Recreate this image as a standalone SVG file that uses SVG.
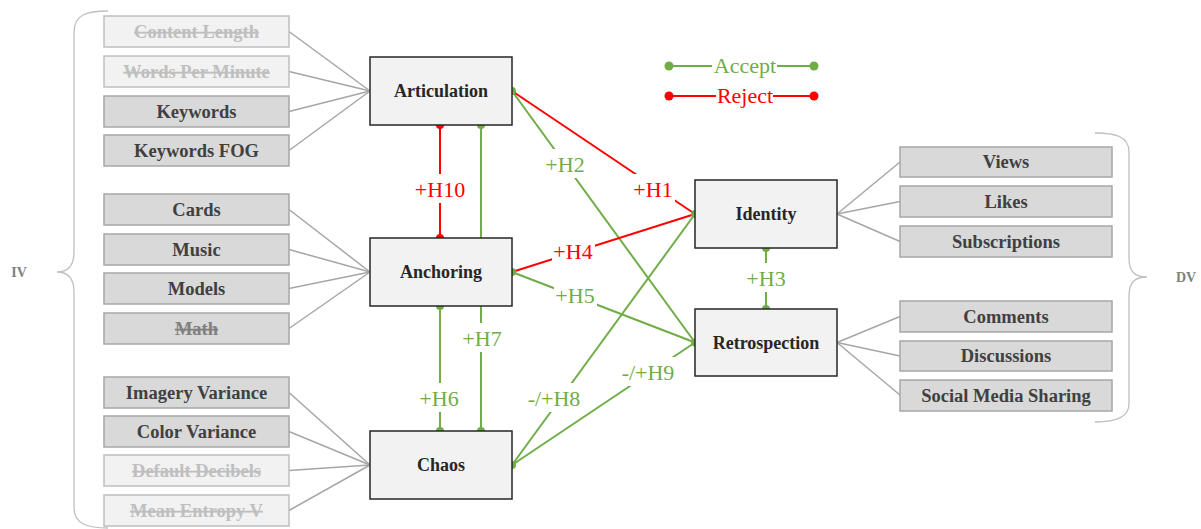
<svg xmlns="http://www.w3.org/2000/svg" width="1201" height="529" viewBox="0 0 1201 529">
  <style>
    .ind rect { fill: #D9D9D9; stroke: #A6A6A6; stroke-width: 1.5; }
    .ind text { font-family: "Liberation Serif", serif; font-weight: bold; font-size: 18.5px; fill: #404040; text-anchor: middle; }
    .off rect { fill: #F2F2F2; stroke: #BFBFBF; stroke-width: 1.5; }
    .off text { font-family: "Liberation Serif", serif; font-weight: bold; font-size: 18.5px; fill: #BFBFBF; text-anchor: middle; text-decoration: line-through; }
    .weak text { fill: #808080; text-decoration: line-through; }
    .node rect { fill: #F2F2F2; stroke: #262626; stroke-width: 1.5; }
    .node text { font-family: "Liberation Serif", serif; font-weight: bold; font-size: 18px; fill: #262626; text-anchor: middle; }
    .feed line { stroke: #A6A6A6; stroke-width: 1.5; }
    .brace { fill: none; stroke: #BFBFBF; stroke-width: 1.3; }
    .side { font-family: "Liberation Serif", serif; font-weight: bold; font-size: 14px; fill: #808080; text-anchor: middle; }
    .acc { stroke: #70AD47; stroke-width: 2; fill: none; }
    .rej { stroke: #FF0000; stroke-width: 2; fill: none; }
    .dacc { fill: #70AD47; }
    .drej { fill: #FF0000; }
    .lbl { font-family: "Liberation Serif", serif; font-size: 22px; text-anchor: middle; }
    .lacc { fill: #70AD47; }
    .lrej { fill: #FF0000; }
    .gap { fill: #FFFFFF; }
  </style>

  <!-- braces grouping independent and dependent variables -->
  <path class="brace" d="M108,11 C88,11 74,14 74,32 L74,252 C74,266 68,272 57,272 C68,272 74,278 74,292 L74,508 C74,524 88,528 108,528"/>
  <text class="side" x="19" y="277">IV</text>
  <path class="brace" d="M1095,133 C1115,133 1129,136 1129,152 L1129,258 C1129,272 1135,277 1147,277 C1135,277 1129,282 1129,296 L1129,404 C1129,418 1115,422 1095,422"/>
  <text class="side" x="1186" y="282">DV</text>

  <!-- measurement feeders -->
  <g id="feeders" class="feed">
    <line x1="289" y1="31.5" x2="370" y2="91"/>
    <line x1="289" y1="71.5" x2="370" y2="91"/>
    <line x1="289" y1="111.5" x2="370" y2="91"/>
    <line x1="289" y1="150.5" x2="370" y2="91"/>
    <line x1="289" y1="209.5" x2="370" y2="272"/>
    <line x1="289" y1="249.5" x2="370" y2="272"/>
    <line x1="289" y1="288.5" x2="370" y2="272"/>
    <line x1="289" y1="328.5" x2="370" y2="272"/>
    <line x1="289" y1="392.5" x2="370" y2="465"/>
    <line x1="289" y1="431.5" x2="370" y2="465"/>
    <line x1="289" y1="470.5" x2="370" y2="465"/>
    <line x1="289" y1="510.5" x2="370" y2="465"/>
    <line x1="837" y1="214" x2="900" y2="162"/>
    <line x1="837" y1="214" x2="900" y2="201.5"/>
    <line x1="837" y1="214" x2="900" y2="241.5"/>
    <line x1="837" y1="342.5" x2="900" y2="316.5"/>
    <line x1="837" y1="342.5" x2="900" y2="356"/>
    <line x1="837" y1="342.5" x2="900" y2="395"/>
  </g>

  <!-- hypothesis connectors -->
  <g id="connectors">
    <line class="acc" x1="481" y1="125" x2="481" y2="431"/>
    <line class="rej" x1="440" y1="125" x2="440" y2="238"/>
    <line class="acc" x1="440" y1="306" x2="440" y2="431"/>
    <line class="acc" x1="512" y1="91" x2="695" y2="342.5"/>
    <line class="rej" x1="512" y1="91" x2="695" y2="214"/>
    <line class="rej" x1="512" y1="272" x2="695" y2="214"/>
    <line class="acc" x1="512" y1="272" x2="695" y2="342.5"/>
    <line class="acc" x1="512" y1="465" x2="695" y2="214"/>
    <line class="acc" x1="512" y1="465" x2="695" y2="342.5"/>
    <line class="acc" x1="766" y1="248" x2="766" y2="309"/>

    <circle class="drej" cx="440" cy="125" r="4"/>
    <circle class="drej" cx="440" cy="238" r="4"/>
    <circle class="dacc" cx="481" cy="125" r="4"/>
    <circle class="dacc" cx="481" cy="431" r="4"/>
    <circle class="dacc" cx="440" cy="306" r="4"/>
    <circle class="dacc" cx="440" cy="431" r="4"/>
    <circle class="dacc" cx="512" cy="91" r="4"/>
    <circle class="dacc" cx="512" cy="272" r="4"/>
    <circle class="dacc" cx="512" cy="465" r="4"/>
    <circle class="dacc" cx="695" cy="214" r="4"/>
    <circle class="dacc" cx="695" cy="342.5" r="4"/>
    <circle class="dacc" cx="766" cy="248" r="4"/>
    <circle class="dacc" cx="766" cy="309" r="4"/>

    <!-- labels with blank backing so the lines break around them -->
    <rect class="gap" x="413" y="174" width="54" height="29"/>
    <text class="lbl lrej" x="440" y="197">+H10</text>
    <rect class="gap" x="632" y="174" width="43" height="29"/>
    <text class="lbl lrej" x="653" y="197">+H1</text>
    <rect class="gap" x="544" y="149" width="43" height="29"/>
    <text class="lbl lacc" x="565" y="172">+H2</text>
    <rect class="gap" x="552" y="236" width="43" height="29"/>
    <text class="lbl lrej" x="573" y="259">+H4</text>
    <rect class="gap" x="554" y="280" width="43" height="29"/>
    <text class="lbl lacc" x="575" y="303">+H5</text>
    <rect class="gap" x="745" y="263" width="43" height="29"/>
    <text class="lbl lacc" x="766" y="286">+H3</text>
    <rect class="gap" x="461" y="323" width="43" height="29"/>
    <text class="lbl lacc" x="482" y="346">+H7</text>
    <rect class="gap" x="418" y="383" width="43" height="29"/>
    <text class="lbl lacc" x="439" y="406">+H6</text>
    <rect class="gap" x="527" y="383" width="55" height="29"/>
    <text class="lbl lacc" x="554" y="406">-/+H8</text>
    <rect class="gap" x="621" y="357" width="55" height="29"/>
    <text class="lbl lacc" x="648" y="380">-/+H9</text>
  </g>

  <!-- legend -->
  <g id="legend">
    <line class="acc" x1="669" y1="66" x2="712" y2="66"/>
    <line class="acc" x1="777" y1="66" x2="814" y2="66"/>
    <circle class="dacc" cx="669" cy="66" r="4.5"/>
    <circle class="dacc" cx="814" cy="66" r="4.5"/>
    <text class="lbl lacc" x="745" y="73">Accept</text>
    <line class="rej" x1="669" y1="96" x2="716" y2="96"/>
    <line class="rej" x1="773" y1="96" x2="814" y2="96"/>
    <circle class="drej" cx="669" cy="96" r="4.5"/>
    <circle class="drej" cx="814" cy="96" r="4.5"/>
    <text class="lbl lrej" x="745" y="103">Reject</text>
  </g>

  <!-- independent measures -->
  <g id="content-length" class="off"><rect x="104" y="16" width="185" height="31"/><text x="196.5" y="38">Content Length</text></g>
  <g id="words-per-minute" class="off"><rect x="104" y="56" width="185" height="31"/><text x="196.5" y="78">Words Per Minute</text></g>
  <g id="keywords" class="ind"><rect x="104" y="96" width="185" height="31"/><text x="196.5" y="118">Keywords</text></g>
  <g id="keywords-fog" class="ind"><rect x="104" y="135" width="185" height="31"/><text x="196.5" y="157">Keywords FOG</text></g>
  <g id="cards" class="ind"><rect x="104" y="194" width="185" height="31"/><text x="196.5" y="216">Cards</text></g>
  <g id="music" class="ind"><rect x="104" y="234" width="185" height="31"/><text x="196.5" y="256">Music</text></g>
  <g id="models" class="ind"><rect x="104" y="273" width="185" height="31"/><text x="196.5" y="295">Models</text></g>
  <g id="math" class="ind weak"><rect x="104" y="313" width="185" height="31"/><text x="196.5" y="335">Math</text></g>
  <g id="imagery-variance" class="ind"><rect x="104" y="377" width="185" height="31"/><text x="196.5" y="399">Imagery Variance</text></g>
  <g id="color-variance" class="ind"><rect x="104" y="416" width="185" height="31"/><text x="196.5" y="438">Color Variance</text></g>
  <g id="default-decibels" class="off"><rect x="104" y="455" width="185" height="31"/><text x="196.5" y="477">Default Decibels</text></g>
  <g id="mean-entropy-v" class="off"><rect x="104" y="495" width="185" height="31"/><text x="196.5" y="517">Mean Entropy V</text></g>

  <!-- constructs -->
  <g id="articulation" class="node"><rect x="370" y="57" width="142" height="68"/><text x="441" y="97">Articulation</text></g>
  <g id="anchoring" class="node"><rect x="370" y="238" width="142" height="68"/><text x="441" y="278">Anchoring</text></g>
  <g id="chaos" class="node"><rect x="370" y="431" width="142" height="68"/><text x="441" y="471">Chaos</text></g>
  <g id="identity" class="node"><rect x="695" y="180" width="142" height="68"/><text x="766" y="220">Identity</text></g>
  <g id="retrospection" class="node"><rect x="695" y="309" width="142" height="67"/><text x="766" y="349">Retrospection</text></g>

  <!-- dependent measures -->
  <g id="views" class="ind"><rect x="900" y="147" width="212" height="30"/><text x="1006" y="168">Views</text></g>
  <g id="likes" class="ind"><rect x="900" y="186" width="212" height="31"/><text x="1006" y="208">Likes</text></g>
  <g id="subscriptions" class="ind"><rect x="900" y="226" width="212" height="31"/><text x="1006" y="248">Subscriptions</text></g>
  <g id="comments" class="ind"><rect x="900" y="301" width="212" height="31"/><text x="1006" y="323">Comments</text></g>
  <g id="discussions" class="ind"><rect x="900" y="341" width="212" height="30"/><text x="1006" y="362">Discussions</text></g>
  <g id="social-media-sharing" class="ind"><rect x="900" y="380" width="212" height="31"/><text x="1006" y="402">Social Media Sharing</text></g>
</svg>
